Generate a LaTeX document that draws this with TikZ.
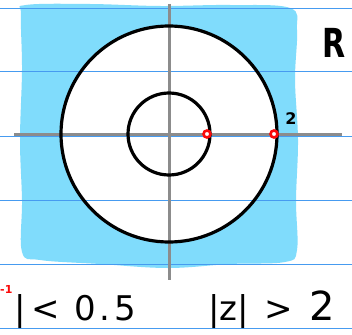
\documentclass[tikz,border=0pt]{standalone}
\usepackage{fontspec}
\setmainfont{DejaVu Sans}
\definecolor{skyfill}{RGB}{128,220,252}
\definecolor{rulecol}{RGB}{70,155,240}
\definecolor{axisgray}{RGB}{140,140,140}
\definecolor{markred}{RGB}{250,10,10}
\begin{document}
\begin{tikzpicture}[x=1pt,y=-1pt,
  ruleline/.style={rulecol, line width=1pt},
  axisline/.style={axisgray, line width=3pt},
  circ/.style={black, line width=3.2pt},
  redmark/.style={markred, line width=2.6pt, fill=white},
  bigtext/.style={inner sep=0pt, font=\fontsize{34}{34}\selectfont}]
\useasboundingbox (0,0) rectangle (352,334);
\fill[white] (0,0) rectangle (352,334);
% shaded region
\fill[skyfill] plot[smooth cycle, tension=0.6] coordinates {
  (26,5) (90,4) (160,6) (230,5) (290,8) (297,30) (295,80) (298,140)
  (296,200) (297,250) (285,262) (230,264) (168,268) (100,264) (40,260)
  (22,252) (22,200) (20,140) (22,70) (21,15)};
% inside of annulus region
\fill[white] (169,134) circle[radius=108];
% notebook lines
\foreach \yy in {9,72,136,200,264,328}
  \draw[ruleline] (0,\yy) -- (352,\yy);
% axes
\coordinate (xl) at (14,134);
\coordinate (xr) at (342,134);
\coordinate (yt) at (169,4);
\coordinate (yb) at (169,280);
\draw[axisline] (xl) -- (xr);
\draw[axisline] (yt) -- (yb);
% circles
\node[circ, draw, circle, minimum size=216pt, inner sep=0pt] (outer) at (169,134) {};
\node[circ, draw, circle, minimum size=82pt, inner sep=0pt] (inner) at (169,134) {};
% red marks
\node[redmark, draw, circle, minimum size=7pt, inner sep=0pt] (m1) at (207,134) {};
\node[redmark, draw, circle, minimum size=7pt, inner sep=0pt] (m2) at (274,134) {};
% labels
\node[inner sep=0pt, font=\fontsize{16}{16}\selectfont\bfseries] (two) at (291,119) {2};
\node[inner sep=0pt, font=\fontsize{40}{40}\selectfont\bfseries, xscale=0.75] (R) at (334,43) {R};
\node[inner sep=0pt, anchor=west, markred, font=\fontsize{11}{11}\selectfont\bfseries] (neg) at (0,289) {-1};
\node[bigtext, anchor=base west] (t1) at (14,320) {|\hspace{6pt}<\hspace{14pt}0\hspace{4pt}.\hspace{4pt}5};
\node[bigtext, anchor=base west] (t2) at (208,320) {|z|\hspace{16pt}>\hspace{16pt}{\fontsize{40}{40}\selectfont 2}};
\end{tikzpicture}
\end{document}
